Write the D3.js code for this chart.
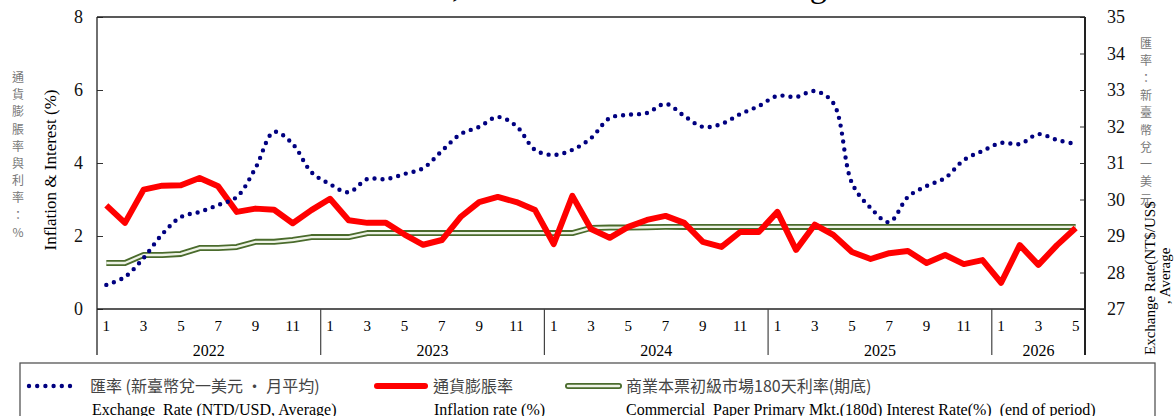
<!DOCTYPE html>
<html>
<head>
<meta charset="utf-8">
<script src="https://cdn.jsdelivr.net/npm/d3@7"></script>
<style>
  body { margin: 0; background: #fff; }
  svg { display: block; }
</style>
</head>
<body>
<div id="chart"></div>
<script>
const width = 1174, height = 416;
const margin = ({ top: 17, right: 89, bottom: 107, left: 97 });

// categories
const years = ["2022", "2023", "2024", "2025", "2026"];
const monthsInYear = [12, 12, 12, 12, 5];
const monthTicks = ["1", "3", "5", "7", "9", "11"];

// series
const exchangeRate = [
  27.66, 27.88, 28.40, 29.05, 29.52, 29.66, 29.85, 30.07, 30.86, 31.85, 31.52, 30.75,
  30.42, 30.20, 30.56, 30.56, 30.70, 30.86, 31.33, 31.79, 31.99, 32.26, 32.01, 31.36,
  31.22, 31.36, 31.68, 32.23, 32.32, 32.37, 32.62, 32.29, 31.99, 32.07, 32.34, 32.56,
  32.84, 32.81, 32.97, 32.64, 30.45, 29.77, 29.38, 30.07, 30.37, 30.59, 31.08, 31.33,
  31.55, 31.52, 31.79, 31.63, 31.52
];
const inflation = [
  2.84, 2.36, 3.27, 3.38, 3.39, 3.59, 3.36, 2.66, 2.75, 2.72, 2.35, 2.71,
  3.02, 2.43, 2.36, 2.36, 2.04, 1.76, 1.89, 2.52, 2.93, 3.07, 2.93, 2.71,
  1.78, 3.10, 2.19, 1.95, 2.25, 2.44, 2.55, 2.36, 1.84, 1.70, 2.11, 2.11,
  2.66, 1.62, 2.31, 2.03, 1.56, 1.37, 1.53, 1.59, 1.26, 1.48, 1.23, 1.34,
  0.72, 1.75, 1.21, 1.75, 2.22
];
const cpRate = [
  1.26, 1.26, 1.48, 1.48, 1.51, 1.67, 1.67, 1.70, 1.84, 1.84, 1.89, 1.97,
  1.97, 1.97, 2.08, 2.08, 2.08, 2.08, 2.08, 2.08, 2.08, 2.08, 2.08, 2.08,
  2.08, 2.08, 2.22, 2.23, 2.23, 2.24, 2.25, 2.25, 2.25, 2.25, 2.25, 2.25,
  2.25, 2.25, 2.25, 2.25, 2.25, 2.25, 2.25, 2.25, 2.25, 2.25, 2.25, 2.25,
  2.25, 2.25, 2.25, 2.25, 2.25
];

const leftTitleZh = "通貨膨脹率與利率：%";
const rightTitleZh = "匯率：新臺幣兌一美元";

const serif = "'Liberation Serif', 'Times New Roman', serif";
const cjk = "'Noto Sans CJK TC', 'Noto Sans CJK SC', sans-serif";

// build period list
let periods = [];
years.forEach((y, i) => {
  for (let m = 1; m <= monthsInYear[i]; m++) periods.push({ year: y, month: m, key: y + "-" + m });
});

const svg = d3.select('#chart').append('svg')
  .attr('width', width)
  .attr('height', height)
  .attr('viewBox', `0 0 ${width} ${height}`);

const plotBottom = height - margin.bottom; // 309
const plotRight = width - margin.right;    // 1085
const axisLow = 355;

const x = d3.scaleBand()
  .domain(periods.map(d => d.key))
  .range([margin.left, plotRight]);
const xc = k => x(k) + x.bandwidth() / 2;

const yL = d3.scaleLinear().domain([0, 8]).range([plotBottom, margin.top]);
const yR = d3.scaleLinear().domain([27, 35]).range([plotBottom, margin.top]);

// title (cropped at the top of the picture)
svg.append("text")
  .attr("x", 335).attr("y", -3)
  .attr("font-family", serif).attr("font-size", 34)
  .text("Inflation, Interest Rate and Exchange Rate");

// left axis
svg.append("g")
  .attr("transform", `translate(${margin.left},0)`)
  .call(d3.axisLeft(yL).ticks(4).tickSizeInner(-6).tickSizeOuter(0).tickPadding(14))
  .call(g => g.select(".domain").remove())
  .call(g => g.selectAll(".tick line").attr("stroke", "#333"))
  .call(g => g.selectAll(".tick text").attr("font-family", serif).attr("font-size", 18).attr("fill", "#111"));

// right axis
svg.append("g")
  .attr("transform", `translate(${plotRight},0)`)
  .call(d3.axisRight(yR).ticks(8).tickSizeInner(-5).tickSizeOuter(0).tickPadding(22))
  .call(g => g.select(".domain").remove())
  .call(g => g.selectAll(".tick line").attr("stroke", "#333"))
  .call(g => g.selectAll(".tick text").attr("font-family", serif).attr("font-size", 18).attr("fill", "#111"));

// frame lines
const frame = svg.append("g").attr("stroke", "#222");
frame.append("line").attr("x1", margin.left).attr("x2", plotRight).attr("y1", margin.top).attr("y2", margin.top).attr("stroke-width", 1.5);
frame.append("line").attr("x1", margin.left).attr("x2", plotRight).attr("y1", plotBottom).attr("y2", plotBottom).attr("stroke-width", 1.5);
frame.append("line").attr("x1", margin.left).attr("x2", margin.left).attr("y1", margin.top).attr("y2", axisLow).attr("stroke-width", 1.3);
frame.append("line").attr("x1", plotRight).attr("x2", plotRight).attr("y1", margin.top).attr("y2", axisLow).attr("stroke-width", 2);

// year separators
years.slice(1).forEach(y => {
  let xx = x(y + "-1");
  frame.append("line").attr("x1", xx).attr("x2", xx).attr("y1", plotBottom).attr("y2", axisLow).attr("stroke", "#444").attr("stroke-width", 1.2);
});

// month labels
svg.append("g")
  .selectAll("text")
  .data(periods.filter(d => monthTicks.includes(String(d.month))))
  .join("text")
  .attr("x", d => xc(d.key))
  .attr("y", 331)
  .attr("text-anchor", "middle")
  .attr("font-family", serif).attr("font-size", 15)
  .text(d => d.month);

// year labels
svg.append("g")
  .selectAll("text")
  .data(years)
  .join("text")
  .attr("x", (y, i) => {
    let first = x(y + "-1");
    let last = x(y + "-" + monthsInYear[i]) + x.bandwidth();
    return (first + last) / 2;
  })
  .attr("y", 356)
  .attr("text-anchor", "middle")
  .attr("font-family", serif).attr("font-size", 16)
  .text(d => d);

// axis titles
svg.append("text")
  .attr("transform", "translate(56,170) rotate(-90)")
  .attr("text-anchor", "middle")
  .attr("font-family", serif).attr("font-size", 17)
  .text("Inflation & Interest (%)");

svg.append("g")
  .selectAll("text")
  .data(Array.from(leftTitleZh))
  .join("text")
  .attr("x", 18)
  .attr("y", (d, i) => 82 + i * 17.2)
  .attr("text-anchor", "middle")
  .attr("font-family", cjk).attr("font-size", 12)
  .attr("fill", "#777")
  .text(d => d);

svg.append("g")
  .selectAll("text")
  .data(Array.from(rightTitleZh))
  .join("text")
  .attr("x", 1146)
  .attr("y", (d, i) => 48 + i * 17.3)
  .attr("text-anchor", "middle")
  .attr("font-family", cjk).attr("font-size", 12)
  .attr("fill", "#777")
  .text(d => d);

svg.append("text")
  .attr("transform", "translate(1155,355) rotate(-90)")
  .attr("font-family", serif).attr("font-size", 15)
  .text("Exchange Rate(NT$/US$");
svg.append("text")
  .attr("transform", "translate(1170,304) rotate(-90)")
  .attr("font-family", serif).attr("font-size", 15)
  .text(", Average");

// series
const lineL = d3.line()
  .x((d, i) => xc(periods[i].key))
  .y(d => yL(d));

const lineR = d3.line()
  .x((d, i) => xc(periods[i].key))
  .y(d => yR(d))
  .curve(d3.curveCatmullRom.alpha(0.5));

// commercial paper rate: double line
svg.append("path")
  .datum(cpRate)
  .attr("d", lineL)
  .attr("fill", "none")
  .attr("stroke", "#4a6b2c")
  .attr("stroke-width", 6)
  .attr("stroke-linejoin", "round");
svg.append("path")
  .datum(cpRate)
  .attr("d", lineL)
  .attr("fill", "none")
  .attr("stroke", "#eef3e6")
  .attr("stroke-width", 2.4)
  .attr("stroke-linejoin", "round");

// inflation
svg.append("path")
  .datum(inflation)
  .attr("d", lineL)
  .attr("fill", "none")
  .attr("stroke", "#ff0000")
  .attr("stroke-width", 6)
  .attr("stroke-linejoin", "round");

// exchange rate (dotted)
svg.append("path")
  .datum(exchangeRate)
  .attr("d", lineR)
  .attr("fill", "none")
  .attr("stroke", "#000080")
  .attr("stroke-width", 4.4)
  .attr("stroke-linecap", "round")
  .attr("stroke-dasharray", "0 8");

// legend
const legend = svg.append("g");
legend.append("rect")
  .attr("x", 20).attr("y", 363)
  .attr("width", 1135).attr("height", 70)
  .attr("fill", "none")
  .attr("stroke", "#555").attr("stroke-width", 1.3);

legend.append("line")
  .attr("x1", 29).attr("x2", 77).attr("y1", 386).attr("y2", 386)
  .attr("stroke", "#000080").attr("stroke-width", 4.4)
  .attr("stroke-linecap", "round").attr("stroke-dasharray", "0 8.2");
legend.append("line")
  .attr("x1", 377).attr("x2", 425).attr("y1", 386).attr("y2", 386)
  .attr("stroke", "#ff0000").attr("stroke-width", 6).attr("stroke-linecap", "round");
legend.append("line")
  .attr("x1", 568).attr("x2", 619).attr("y1", 386).attr("y2", 386)
  .attr("stroke", "#4a6b2c").attr("stroke-width", 6).attr("stroke-linecap", "round");
legend.append("line")
  .attr("x1", 568).attr("x2", 619).attr("y1", 386).attr("y2", 386)
  .attr("stroke", "#eef3e6").attr("stroke-width", 2.4).attr("stroke-linecap", "round");

const legendRows = [
  { x: 90, zh: "匯率 (新臺幣兌一美元 · 月平均)", en: "Exchange  Rate (NTD/USD, Average)", enx: 92 },
  { x: 433, zh: "通貨膨脹率", en: "Inflation rate (%)", enx: 434 },
  { x: 626, zh: "商業本票初級市場180天利率(期底)", en: "Commercial  Paper Primary Mkt.(180d) Interest Rate(%)  (end of period)", enx: 626 }
];
legend.selectAll(".zh")
  .data(legendRows)
  .join("text")
  .attr("class", "zh")
  .attr("x", d => d.x).attr("y", 392)
  .attr("font-family", cjk).attr("font-size", 16)
  .attr("fill", "#444")
  .style("white-space", "pre")
  .text(d => d.zh);
legend.selectAll(".en")
  .data(legendRows)
  .join("text")
  .attr("class", "en")
  .attr("x", d => d.enx).attr("y", 415)
  .attr("font-family", serif).attr("font-size", 16)
  .style("white-space", "pre")
  .text(d => d.en);
</script>
</body>
</html>
